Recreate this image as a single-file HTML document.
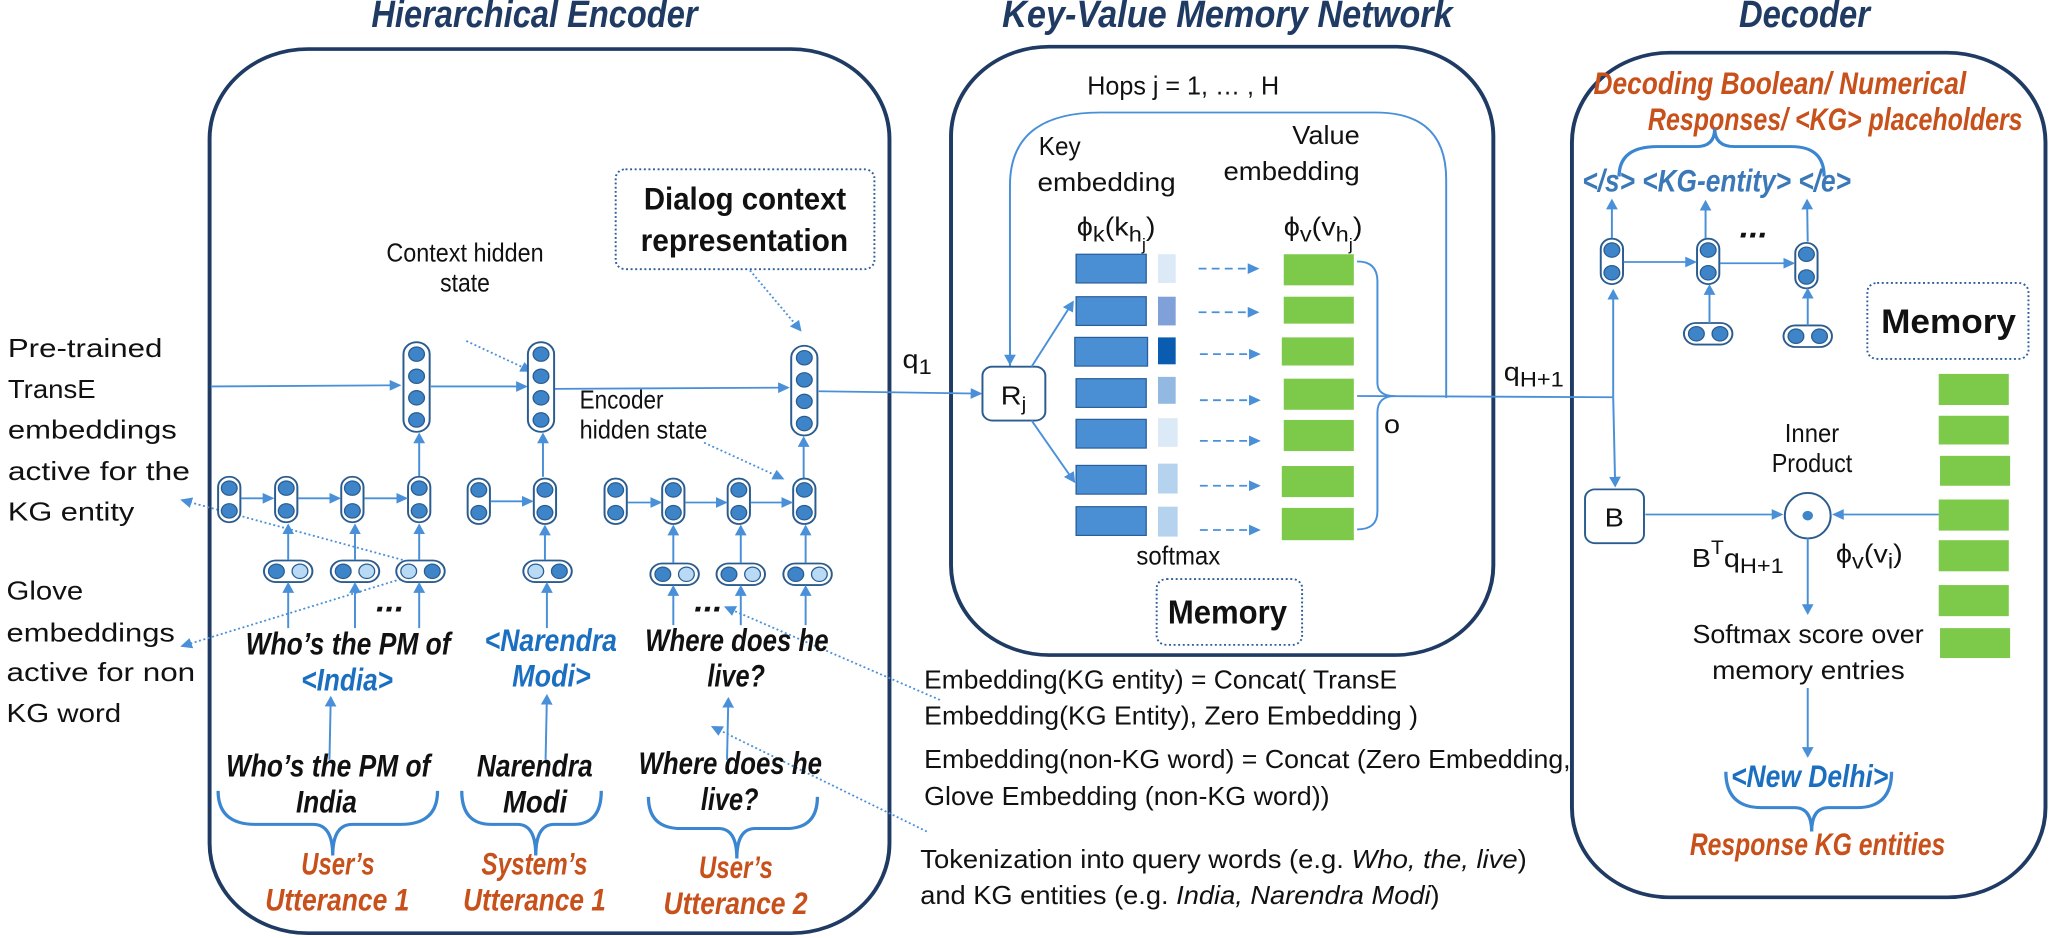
<!DOCTYPE html>
<html><head><meta charset="utf-8"><style>
html,body{margin:0;padding:0;background:#fff;}
svg{display:block;}
text{font-family:"Liberation Sans",sans-serif;}
.t{font-weight:bold;font-style:italic;fill:#1f3b63;font-size:64px;}
.bi{font-weight:bold;font-style:italic;fill:#111;font-size:52px;}
.bl{font-weight:bold;font-style:italic;fill:#1a6fc0;font-size:52px;}
.or{font-weight:bold;font-style:italic;fill:#c8501a;font-size:52px;}
.n{fill:#111;font-size:44px;}
.ln{stroke:#4a90d9;stroke-width:3;fill:none;}
.dt{stroke:#4a90d9;stroke-width:3;fill:none;stroke-dasharray:3 4;}
.box{stroke:#1f3b63;stroke-width:6;fill:none;}
.br{stroke:#3a86d0;stroke-width:5;fill:none;}
</style></head><body>
<svg width="2054" height="938" viewBox="0 0 3136 1568" preserveAspectRatio="none" xmlns="http://www.w3.org/2000/svg">
<defs>
<marker id="a" markerWidth="6" markerHeight="6" refX="5" refY="3" orient="auto" markerUnits="strokeWidth"><path d="M0,0 L6,3 L0,6 z" fill="#4a90d9"/></marker>
<g id="c2"><rect x="-17" y="-38" width="34" height="76" rx="17" fill="#fff" stroke="#2b5c8f" stroke-width="3"/><circle cx="0" cy="-19" r="12" fill="#3d85c8" stroke="#2b5c8f" stroke-width="2"/><circle cx="0" cy="19" r="12" fill="#3d85c8" stroke="#2b5c8f" stroke-width="2"/></g>
<g id="c4"><rect x="-20" y="-75" width="40" height="150" rx="20" fill="#fff" stroke="#2b5c8f" stroke-width="3"/><circle cx="0" cy="-55" r="12" fill="#3d85c8" stroke="#2b5c8f" stroke-width="2"/><circle cx="0" cy="-18" r="12" fill="#3d85c8" stroke="#2b5c8f" stroke-width="2"/><circle cx="0" cy="18" r="12" fill="#3d85c8" stroke="#2b5c8f" stroke-width="2"/><circle cx="0" cy="55" r="12" fill="#3d85c8" stroke="#2b5c8f" stroke-width="2"/></g>
<g id="pDL"><rect x="-37" y="-18" width="74" height="36" rx="18" fill="#fff" stroke="#2b5c8f" stroke-width="3"/><circle cx="-18" cy="0" r="12" fill="#3d85c8" stroke="#2b5c8f" stroke-width="2"/><circle cx="18" cy="0" r="12" fill="#b9daf5" stroke="#2b5c8f" stroke-width="2"/></g>
<g id="pLD"><rect x="-37" y="-18" width="74" height="36" rx="18" fill="#fff" stroke="#2b5c8f" stroke-width="3"/><circle cx="-18" cy="0" r="12" fill="#b9daf5" stroke="#2b5c8f" stroke-width="2"/><circle cx="18" cy="0" r="12" fill="#3d85c8" stroke="#2b5c8f" stroke-width="2"/></g>
<g id="pDD"><rect x="-37" y="-18" width="74" height="36" rx="18" fill="#fff" stroke="#2b5c8f" stroke-width="3"/><circle cx="-18" cy="0" r="12" fill="#3d85c8" stroke="#2b5c8f" stroke-width="2"/><circle cx="18" cy="0" r="12" fill="#3d85c8" stroke="#2b5c8f" stroke-width="2"/></g>
</defs>

<text class="t" x="567" y="45" textLength="498" lengthAdjust="spacingAndGlyphs">Hierarchical Encoder</text>
<text class="t" x="1530" y="45" textLength="688" lengthAdjust="spacingAndGlyphs">Key-Value Memory Network</text>
<text class="t" x="2655" y="45" textLength="200" lengthAdjust="spacingAndGlyphs">Decoder</text>

<rect class="box" x="320" y="82" width="1038" height="1478" rx="150"/>
<rect class="box" x="1452" y="78" width="828" height="1017" rx="150"/>
<rect class="box" x="2400" y="88" width="723" height="1412" rx="150"/>

<g class="n" font-size="54">
<text x="12" y="597" textLength="236" lengthAdjust="spacingAndGlyphs">Pre-trained</text>
<text x="12" y="665" textLength="134" lengthAdjust="spacingAndGlyphs">TransE</text>
<text x="12" y="733" textLength="258" lengthAdjust="spacingAndGlyphs">embeddings</text>
<text x="12" y="802" textLength="278" lengthAdjust="spacingAndGlyphs">active for the</text>
<text x="12" y="870" textLength="193" lengthAdjust="spacingAndGlyphs">KG entity</text>
<text x="10" y="1002" textLength="117" lengthAdjust="spacingAndGlyphs">Glove</text>
<text x="10" y="1072" textLength="257" lengthAdjust="spacingAndGlyphs">embeddings</text>
<text x="10" y="1138" textLength="288" lengthAdjust="spacingAndGlyphs">active for non</text>
<text x="10" y="1207" textLength="175" lengthAdjust="spacingAndGlyphs">KG word</text>
</g>

<rect x="940" y="283" width="395" height="167" rx="15" fill="none" stroke="#2e5e9a" stroke-width="3" stroke-dasharray="3 4"/>
<text x="983" y="350" font-weight="bold" font-size="52" fill="#111" textLength="309" lengthAdjust="spacingAndGlyphs">Dialog context</text>
<text x="978" y="420" font-weight="bold" font-size="52" fill="#111" textLength="317" lengthAdjust="spacingAndGlyphs">representation</text>
<text class="n" font-size="40" x="590" y="437" textLength="240" lengthAdjust="spacingAndGlyphs">Context hidden</text>
<text class="n" font-size="40" x="672" y="487" textLength="76" lengthAdjust="spacingAndGlyphs">state</text>
<text class="n" font-size="40" x="885" y="683" textLength="128" lengthAdjust="spacingAndGlyphs">Encoder</text>
<text class="n" font-size="40" x="885" y="733" textLength="195" lengthAdjust="spacingAndGlyphs">hidden state</text>

<line class="dt" x1="712" y1="570" x2="810" y2="620" marker-end="url(#a)"/>
<line class="dt" x1="1145" y1="452" x2="1222" y2="552" marker-end="url(#a)"/>
<line class="dt" x1="1075" y1="740" x2="1195" y2="800" marker-end="url(#a)"/>
<line class="dt" x1="655" y1="948" x2="278" y2="836" marker-end="url(#a)"/>
<line class="dt" x1="612" y1="968" x2="278" y2="1080" marker-end="url(#a)"/>
<line class="dt" x1="1435" y1="1170" x2="1108" y2="1015" marker-end="url(#a)"/>
<line class="dt" x1="1415" y1="1390" x2="1088" y2="1215" marker-end="url(#a)"/>

<line class="ln" x1="322" y1="646" x2="610" y2="644" marker-end="url(#a)"/>
<line class="ln" x1="658" y1="646" x2="803" y2="646" marker-end="url(#a)"/>
<line class="ln" x1="846" y1="650" x2="1203" y2="648" marker-end="url(#a)"/>
<line class="ln" x1="1250" y1="654" x2="1497" y2="658" marker-end="url(#a)"/>

<use href="#c4" x="636" y="647"/>
<use href="#c4" x="826" y="647"/>
<use href="#c4" x="1228" y="653"/>

<line class="ln" x1="640" y1="797" x2="640" y2="726" marker-end="url(#a)"/>
<line class="ln" x1="829" y1="797" x2="829" y2="726" marker-end="url(#a)"/>
<line class="ln" x1="1227" y1="800" x2="1227" y2="732" marker-end="url(#a)"/>

<use href="#c2" x="350" y="835"/><use href="#c2" x="437" y="835"/><use href="#c2" x="538" y="835"/><use href="#c2" x="640" y="835"/>
<use href="#c2" x="731" y="838"/><use href="#c2" x="832" y="838"/>
<use href="#c2" x="940" y="838"/><use href="#c2" x="1028" y="838"/><use href="#c2" x="1128" y="838"/><use href="#c2" x="1228" y="838"/>
<line class="ln" x1="368" y1="833" x2="416" y2="833" marker-end="url(#a)"/>
<line class="ln" x1="455" y1="833" x2="518" y2="833" marker-end="url(#a)"/>
<line class="ln" x1="556" y1="833" x2="620" y2="833" marker-end="url(#a)"/>
<line class="ln" x1="749" y1="838" x2="812" y2="838" marker-end="url(#a)"/>
<line class="ln" x1="958" y1="840" x2="1008" y2="840" marker-end="url(#a)"/>
<line class="ln" x1="1046" y1="840" x2="1108" y2="840" marker-end="url(#a)"/>
<line class="ln" x1="1146" y1="840" x2="1208" y2="840" marker-end="url(#a)"/>

<use href="#pDL" x="440" y="955"/><use href="#pDL" x="542" y="955"/><use href="#pLD" x="642" y="955"/>
<use href="#pLD" x="836" y="955"/>
<use href="#pDL" x="1030" y="960"/><use href="#pDL" x="1131" y="960"/><use href="#pDL" x="1233" y="960"/>
<g class="ln">
<line x1="440" y1="936" x2="440" y2="878" marker-end="url(#a)"/>
<line x1="542" y1="936" x2="542" y2="878" marker-end="url(#a)"/>
<line x1="640" y1="936" x2="640" y2="878" marker-end="url(#a)"/>
<line x1="832" y1="936" x2="832" y2="880" marker-end="url(#a)"/>
<line x1="1028" y1="941" x2="1028" y2="880" marker-end="url(#a)"/>
<line x1="1131" y1="941" x2="1131" y2="880" marker-end="url(#a)"/>
<line x1="1230" y1="941" x2="1230" y2="880" marker-end="url(#a)"/>
<line x1="440" y1="1050" x2="440" y2="976" marker-end="url(#a)"/>
<line x1="542" y1="1050" x2="542" y2="976" marker-end="url(#a)"/>
<line x1="640" y1="1050" x2="640" y2="976" marker-end="url(#a)"/>
<line x1="835" y1="1050" x2="835" y2="976" marker-end="url(#a)"/>
<line x1="1028" y1="1045" x2="1028" y2="981" marker-end="url(#a)"/>
<line x1="1131" y1="1045" x2="1131" y2="981" marker-end="url(#a)"/>
<line x1="1230" y1="1045" x2="1230" y2="981" marker-end="url(#a)"/>
<line x1="503" y1="1270" x2="505" y2="1166" marker-end="url(#a)"/>
<line x1="833" y1="1270" x2="835" y2="1163" marker-end="url(#a)"/>
<line x1="1110" y1="1270" x2="1112" y2="1168" marker-end="url(#a)"/>
</g>
<text class="bi" x="574" y="1022" font-size="40">...</text>
<text class="bi" x="1060" y="1022" font-size="40">...</text>

<text class="bi" x="375" y="1094" textLength="313" lengthAdjust="spacingAndGlyphs">Who’s the PM of</text>
<text class="bl" x="460" y="1154" textLength="140" lengthAdjust="spacingAndGlyphs">&lt;India&gt;</text>
<text class="bl" x="740" y="1088" textLength="202" lengthAdjust="spacingAndGlyphs">&lt;Narendra</text>
<text class="bl" x="782" y="1148" textLength="120" lengthAdjust="spacingAndGlyphs">Modi&gt;</text>
<text class="bi" x="985" y="1088" textLength="280" lengthAdjust="spacingAndGlyphs">Where does he</text>
<text class="bi" x="1080" y="1148" textLength="88" lengthAdjust="spacingAndGlyphs">live?</text>

<text class="bi" x="345" y="1298" textLength="312" lengthAdjust="spacingAndGlyphs">Who’s the PM of</text>
<text class="bi" x="452" y="1358" textLength="93" lengthAdjust="spacingAndGlyphs">India</text>
<text class="bi" x="728" y="1298" textLength="177" lengthAdjust="spacingAndGlyphs">Narendra</text>
<text class="bi" x="768" y="1358" textLength="98" lengthAdjust="spacingAndGlyphs">Modi</text>
<text class="bi" x="975" y="1294" textLength="280" lengthAdjust="spacingAndGlyphs">Where does he</text>
<text class="bi" x="1070" y="1354" textLength="88" lengthAdjust="spacingAndGlyphs">live?</text>

<path class="br" d="M333,1322 Q333,1378 390,1378 L478,1378 Q508,1378 508,1430 Q508,1378 538,1378 L612,1378 Q668,1378 668,1322"/>
<path class="br" d="M705,1322 Q705,1378 750,1378 L790,1378 Q818,1378 818,1430 Q818,1378 846,1378 L875,1378 Q918,1378 918,1322"/>
<path class="br" d="M990,1332 Q990,1385 1040,1385 L1097,1385 Q1125,1385 1125,1435 Q1125,1385 1153,1385 L1200,1385 Q1248,1385 1248,1332"/>

<text class="or" x="460" y="1462" textLength="112" lengthAdjust="spacingAndGlyphs">User’s</text>
<text class="or" x="405" y="1522" textLength="220" lengthAdjust="spacingAndGlyphs">Utterance 1</text>
<text class="or" x="735" y="1462" textLength="162" lengthAdjust="spacingAndGlyphs">System’s</text>
<text class="or" x="707" y="1522" textLength="218" lengthAdjust="spacingAndGlyphs">Utterance 1</text>
<text class="or" x="1067" y="1468" textLength="113" lengthAdjust="spacingAndGlyphs">User’s</text>
<text class="or" x="1013" y="1528" textLength="220" lengthAdjust="spacingAndGlyphs">Utterance 2</text>

<text class="n" font-size="54" x="1378" y="615">q<tspan font-size="36" dy="10">1</tspan></text>

<text class="n" font-size="44" x="1660" y="158" textLength="293" lengthAdjust="spacingAndGlyphs">Hops j = 1, … , H</text>
<path class="ln" d="M1542,612 L1542,310 Q1542,188 1680,188 L2100,188 Q2208,188 2208,300 L2208,665"/>
<line class="ln" x1="1542" y1="560" x2="1542" y2="608" marker-end="url(#a)"/>
<rect x="1500" y="613" width="96" height="90" rx="15" fill="#fff" stroke="#2b5c8f" stroke-width="3"/>
<text class="n" font-size="50" x="1528" y="676">R<tspan font-size="32" dy="10">j</tspan></text>
<line class="ln" x1="1575" y1="613" x2="1638" y2="505" marker-end="url(#a)"/>
<line class="ln" x1="1575" y1="703" x2="1640" y2="805" marker-end="url(#a)"/>

<text class="n" font-size="44" x="1586" y="259" textLength="64" lengthAdjust="spacingAndGlyphs">Key</text>
<text class="n" font-size="44" x="1584" y="319" textLength="211" lengthAdjust="spacingAndGlyphs">embedding</text>
<text class="n" font-size="44" x="1973" y="241" textLength="103" lengthAdjust="spacingAndGlyphs">Value</text>
<text class="n" font-size="44" x="1868" y="301" textLength="208" lengthAdjust="spacingAndGlyphs">embedding</text>
<text class="n" font-size="58" x="1644" y="394">ϕ<tspan font-size="36" dy="10">k</tspan><tspan dy="-10">(k</tspan><tspan font-size="36" dy="10">h</tspan><tspan font-size="28" dy="14">j</tspan><tspan dy="-24">)</tspan></text>
<text class="n" font-size="58" x="1960" y="394">ϕ<tspan font-size="36" dy="10">v</tspan><tspan dy="-10">(v</tspan><tspan font-size="36" dy="10">h</tspan><tspan font-size="28" dy="14">j</tspan><tspan dy="-24">)</tspan></text>

<g stroke="#2a5e9a" stroke-width="2" fill="#4a8fd4">
<rect x="1643" y="425" width="107" height="48"/><rect x="1643" y="496" width="107" height="48"/><rect x="1641" y="564" width="111" height="48"/><rect x="1643" y="633" width="107" height="48"/><rect x="1643" y="701" width="107" height="48"/><rect x="1643" y="778" width="107" height="48"/><rect x="1643" y="847" width="107" height="48"/>
</g>
<rect x="1768" y="425" width="27" height="48" fill="#dce9f6"/>
<rect x="1768" y="496" width="27" height="48" fill="#7fa0d8"/>
<rect x="1768" y="564" width="27" height="45" fill="#0a5cb0"/>
<rect x="1768" y="630" width="27" height="45" fill="#93b9e3"/>
<rect x="1768" y="699" width="30" height="48" fill="#dce9f6"/>
<rect x="1768" y="775" width="30" height="50" fill="#b5d2ee"/>
<rect x="1768" y="847" width="30" height="50" fill="#b5d2ee"/>
<g class="ln" stroke-dasharray="12 8">
<line x1="1830" y1="449" x2="1920" y2="449" marker-end="url(#a)"/>
<line x1="1830" y1="522" x2="1920" y2="522" marker-end="url(#a)"/>
<line x1="1832" y1="592" x2="1922" y2="592" marker-end="url(#a)"/>
<line x1="1832" y1="669" x2="1922" y2="669" marker-end="url(#a)"/>
<line x1="1832" y1="737" x2="1922" y2="737" marker-end="url(#a)"/>
<line x1="1832" y1="812" x2="1922" y2="812" marker-end="url(#a)"/>
<line x1="1832" y1="886" x2="1922" y2="886" marker-end="url(#a)"/>
</g>
<g fill="#7dc94a">
<rect x="1960" y="425" width="107" height="52"/><rect x="1960" y="496" width="107" height="45"/><rect x="1957" y="564" width="110" height="47"/><rect x="1960" y="633" width="107" height="52"/><rect x="1960" y="702" width="107" height="52"/><rect x="1957" y="779" width="110" height="52"/><rect x="1957" y="849" width="110" height="54"/>
</g>
<path class="ln" d="M2072,437 Q2103,437 2103,470 L2103,640 Q2103,662 2130,662 Q2103,662 2103,690 L2103,855 Q2103,885 2072,885"/>
<text class="n" font-size="50" x="2113" y="724">o</text>
<text class="n" font-size="38" x="1735" y="944" textLength="128" lengthAdjust="spacingAndGlyphs">softmax</text>
<rect x="1766" y="968" width="222" height="110" rx="15" fill="none" stroke="#2e5e9a" stroke-width="3" stroke-dasharray="3 4"/>
<text x="1783" y="1042" font-weight="bold" font-size="56" fill="#111" textLength="182" lengthAdjust="spacingAndGlyphs">Memory</text>

<line class="ln" x1="2072" y1="662" x2="2463" y2="664"/>
<line class="ln" x1="2463" y1="664" x2="2463" y2="486" marker-end="url(#a)"/>
<line class="ln" x1="2463" y1="664" x2="2466" y2="812" marker-end="url(#a)"/>
<text class="n" font-size="54" x="2296" y="636">q<tspan font-size="36" dy="10">H+1</tspan></text>

<g class="n" font-size="48">
<text x="1411" y="1151" textLength="722" lengthAdjust="spacingAndGlyphs">Embedding(KG entity) = Concat( TransE</text>
<text x="1411" y="1211" textLength="754" lengthAdjust="spacingAndGlyphs">Embedding(KG Entity), Zero Embedding )</text>
<text x="1411" y="1284" textLength="987" lengthAdjust="spacingAndGlyphs">Embedding(non-KG word) = Concat (Zero Embedding,</text>
<text x="1411" y="1346" textLength="619" lengthAdjust="spacingAndGlyphs">Glove Embedding (non-KG word))</text>
<text x="1405" y="1451" textLength="926" lengthAdjust="spacingAndGlyphs">Tokenization into query words (e.g. <tspan font-style="italic">Who, the, live</tspan>)</text>
<text x="1405" y="1511" textLength="793" lengthAdjust="spacingAndGlyphs">and KG entities (e.g. <tspan font-style="italic">India, Narendra Modi</tspan>)</text>
</g>

<text class="or" font-size="46" x="2433" y="157" textLength="569" lengthAdjust="spacingAndGlyphs">Decoding Boolean/ Numerical</text>
<text class="or" font-size="46" x="2516" y="217" textLength="572" lengthAdjust="spacingAndGlyphs">Responses/ &lt;KG&gt; placeholders</text>
<path class="br" d="M2472,295 Q2472,245 2530,245 L2590,245 Q2618,245 2618,215 Q2618,245 2648,245 L2735,245 Q2785,245 2785,295"/>
<text class="bl" font-size="44" x="2416" y="320" textLength="410" lengthAdjust="spacingAndGlyphs" style="fill:#3a78b8">&lt;/s&gt; &lt;KG-entity&gt; &lt;/e&gt;</text>
<use href="#c2" x="2461" y="437"/><use href="#c2" x="2608" y="437"/><use href="#c2" x="2758" y="444"/>
<line class="ln" x1="2461" y1="398" x2="2461" y2="335" marker-end="url(#a)"/>
<line class="ln" x1="2604" y1="398" x2="2604" y2="337" marker-end="url(#a)"/>
<line class="ln" x1="2760" y1="404" x2="2759" y2="335" marker-end="url(#a)"/>
<line class="ln" x1="2479" y1="438" x2="2588" y2="438" marker-end="url(#a)"/>
<line class="ln" x1="2626" y1="440" x2="2738" y2="440" marker-end="url(#a)"/>
<text class="bi" font-size="40" x="2656" y="397">...</text>
<use href="#pDD" x="2608" y="558"/><use href="#pDD" x="2760" y="562"/>
<line class="ln" x1="2610" y1="540" x2="2610" y2="478" marker-end="url(#a)"/>
<line class="ln" x1="2760" y1="544" x2="2760" y2="484" marker-end="url(#a)"/>

<rect x="2851" y="473" width="246" height="127" rx="15" fill="none" stroke="#2e5e9a" stroke-width="3" stroke-dasharray="3 4"/>
<text x="2872" y="557" font-weight="bold" font-size="58" fill="#111" textLength="206" lengthAdjust="spacingAndGlyphs">Memory</text>
<g fill="#7dc94a">
<rect x="2960" y="625" width="107" height="52"/><rect x="2960" y="695" width="107" height="48"/><rect x="2962" y="762" width="107" height="50"/><rect x="2960" y="835" width="107" height="52"/><rect x="2960" y="903" width="107" height="52"/><rect x="2960" y="978" width="107" height="52"/><rect x="2962" y="1050" width="107" height="50"/>
</g>
<text class="n" font-size="38" x="2725" y="739" textLength="83" lengthAdjust="spacingAndGlyphs">Inner</text>
<text class="n" font-size="38" x="2705" y="789" textLength="123" lengthAdjust="spacingAndGlyphs">Product</text>
<rect x="2420" y="818" width="90" height="90" rx="15" fill="#fff" stroke="#2b5c8f" stroke-width="3"/>
<text class="n" font-size="50" x="2450" y="880">B</text>
<ellipse cx="2760" cy="862" rx="35" ry="38" fill="#fff" stroke="#2b5c8f" stroke-width="3"/>
<circle cx="2760" cy="862" r="8" fill="#3d85c8"/>
<line class="ln" x1="2512" y1="860" x2="2720" y2="860" marker-end="url(#a)"/>
<line class="ln" x1="2960" y1="860" x2="2800" y2="860" marker-end="url(#a)"/>
<text class="n" font-size="54" x="2583" y="948">B<tspan font-size="32" dy="-22">T</tspan><tspan dy="22">q</tspan><tspan font-size="36" dy="10">H+1</tspan></text>
<text class="n" font-size="54" x="2803" y="940">ϕ<tspan font-size="36" dy="10">v</tspan><tspan dy="-10">(v</tspan><tspan font-size="36" dy="10">i</tspan><tspan dy="-10">)</tspan></text>
<line class="ln" x1="2760" y1="900" x2="2760" y2="1025" marker-end="url(#a)"/>
<text class="n" font-size="46" x="2584" y="1075" textLength="353" lengthAdjust="spacingAndGlyphs">Softmax score over</text>
<text class="n" font-size="46" x="2614" y="1135" textLength="294" lengthAdjust="spacingAndGlyphs">memory entries</text>
<line class="ln" x1="2760" y1="1150" x2="2760" y2="1264" marker-end="url(#a)"/>
<text class="bl" font-size="46" x="2643" y="1316" textLength="240" lengthAdjust="spacingAndGlyphs">&lt;New Delhi&gt;</text>
<path class="br" d="M2635,1290 Q2635,1350 2690,1350 L2740,1350 Q2766,1350 2766,1390 Q2766,1350 2792,1350 L2835,1350 Q2888,1350 2888,1290"/>
<text class="or" font-size="48" x="2580" y="1429" textLength="390" lengthAdjust="spacingAndGlyphs">Response KG entities</text>
</svg>
</body></html>
